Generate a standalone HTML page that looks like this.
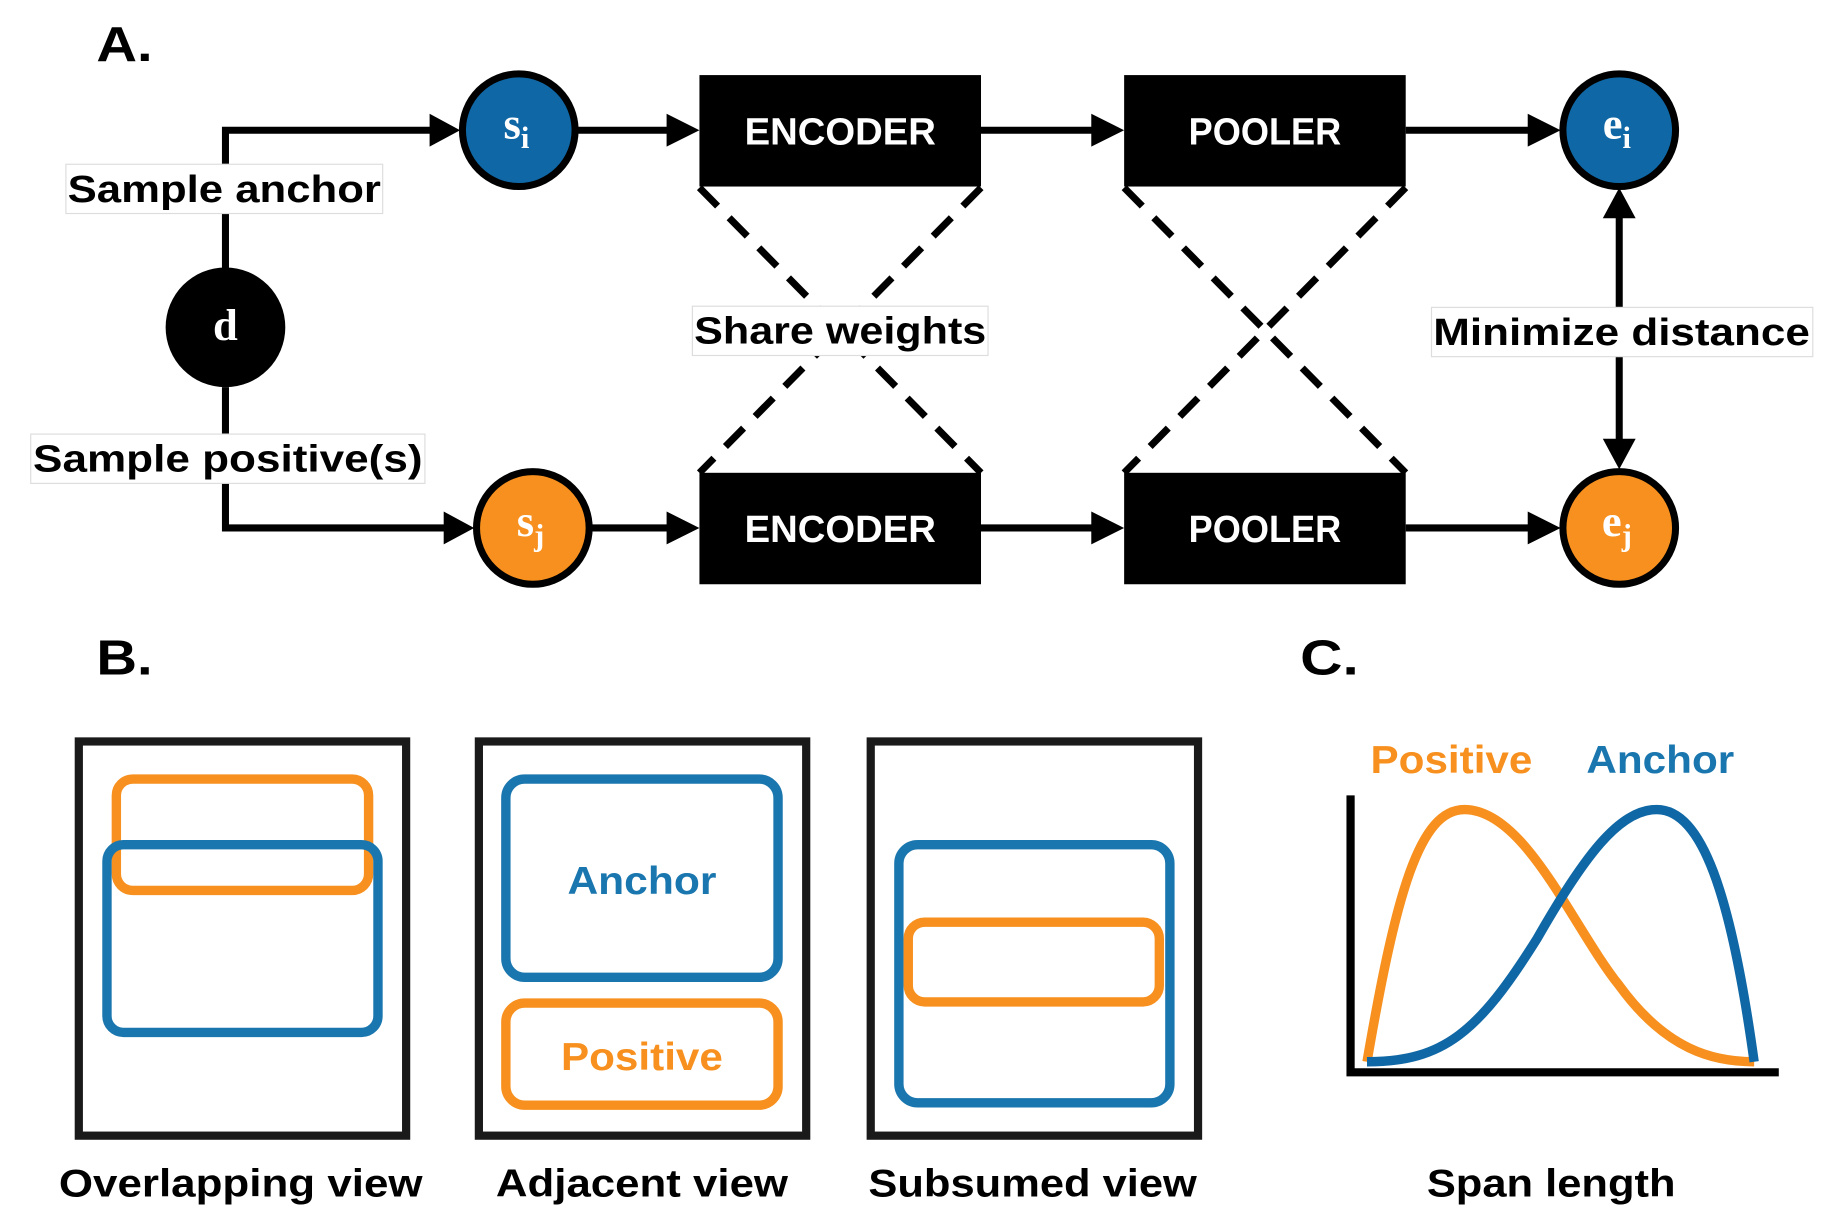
<!DOCTYPE html>
<html><head><meta charset="utf-8"><style>
html,body{margin:0;padding:0;background:#fff;}
svg{display:block;}
text{font-family:"Liberation Sans",sans-serif;font-weight:bold;}
text.serif{font-family:"Liberation Serif",serif;}
</style></head><body>
<svg width="1840" height="1226" viewBox="0 0 1568 1045" xmlns="http://www.w3.org/2000/svg">
<rect width="1568" height="1045" fill="#fff"/>
<text x="82" y="52" font-size="42" textLength="48" lengthAdjust="spacingAndGlyphs">A.</text>
<text x="82" y="575" font-size="42" textLength="48" lengthAdjust="spacingAndGlyphs">B.</text>
<text x="1108" y="575" font-size="42" textLength="50" lengthAdjust="spacingAndGlyphs">C.</text>

<g stroke="#000" stroke-width="6" fill="none">
<polyline points="192,230 192,111 370,111"/>
<polyline points="192,330 192,450 382,450"/>
<line x1="492" y1="111" x2="572" y2="111"/>
<line x1="836" y1="111" x2="934" y2="111"/>
<line x1="1198" y1="111" x2="1306" y2="111"/>
<line x1="504" y1="450" x2="572" y2="450"/>
<line x1="836" y1="450" x2="934" y2="450"/>
<line x1="1198" y1="450" x2="1306" y2="450"/>
<line x1="1380" y1="182" x2="1380" y2="378"/>
</g>
<g fill="#000">
<polygon points="366,97 392,111 366,125"/>
<polygon points="378,436 404,450 378,464"/>
<polygon points="568,97 596,111 568,125"/>
<polygon points="568,436 596,450 568,464"/>
<polygon points="930,97 958,111 930,125"/>
<polygon points="930,436 958,450 930,464"/>
<polygon points="1302,97 1330,111 1302,125"/>
<polygon points="1302,436 1330,450 1302,464"/>
<polygon points="1366,186 1380,160 1394,186"/>
<polygon points="1366,374 1380,400 1394,374"/>
</g>
<g stroke="#000" stroke-width="6" stroke-dasharray="22,14">
<line x1="596" y1="160" x2="836" y2="403"/>
<line x1="836" y1="160" x2="596" y2="403"/>
<line x1="958" y1="160" x2="1198" y2="403"/>
<line x1="1198" y1="160" x2="958" y2="403"/>
</g>
<g fill="#000">
<rect x="596" y="64" width="240" height="95"/>
<rect x="958" y="64" width="240" height="95"/>
<rect x="596" y="403" width="240" height="95"/>
<rect x="958" y="403" width="240" height="95"/>
</g>
<g fill="#fff" font-size="32" text-anchor="middle">
<text x="716" y="123" textLength="163" lengthAdjust="spacingAndGlyphs">ENCODER</text>
<text x="1078" y="123" textLength="130" lengthAdjust="spacingAndGlyphs">POOLER</text>
<text x="716" y="462" textLength="163" lengthAdjust="spacingAndGlyphs">ENCODER</text>
<text x="1078" y="462" textLength="130" lengthAdjust="spacingAndGlyphs">POOLER</text>
</g>
<circle cx="192" cy="279" r="51" fill="#000"/>
<text class="serif" x="192" y="290" fill="#fff" font-size="38" text-anchor="middle">d</text>
<g stroke="#000" stroke-width="6">
<circle cx="442" cy="111" r="48" fill="#0f67a5"/>
<circle cx="454" cy="450" r="48" fill="#f7901e"/>
<circle cx="1380" cy="111" r="48" fill="#0f67a5"/>
<circle cx="1380" cy="450" r="48" fill="#f7901e"/>
</g>
<g fill="#fff" font-size="38" text-anchor="middle">
<text class="serif" x="440" y="118">s<tspan font-size="26" dy="8">i</tspan></text>
<text class="serif" x="452" y="457">s<tspan font-size="26" dy="8">j</tspan></text>
<text class="serif" x="1378" y="118">e<tspan font-size="26" dy="8">i</tspan></text>
<text class="serif" x="1378" y="457">e<tspan font-size="26" dy="8">j</tspan></text>
</g>
<g fill="#fff" stroke="#ddd" stroke-width="1">
<rect x="56" y="140" width="270" height="42"/>
<rect x="26" y="370" width="336" height="42"/>
<rect x="590" y="261" width="252" height="42"/>
<rect x="1220" y="262" width="325" height="42"/>
</g>
<g font-size="32" text-anchor="middle">
<text x="191" y="172" textLength="267" lengthAdjust="spacingAndGlyphs">Sample anchor</text>
<text x="194" y="402" textLength="332" lengthAdjust="spacingAndGlyphs">Sample positive(s)</text>
<text x="716" y="293" textLength="249" lengthAdjust="spacingAndGlyphs">Share weights</text>
<text x="1382" y="294" textLength="321" lengthAdjust="spacingAndGlyphs">Minimize distance</text>
</g>
<g fill="none" stroke="#1a1a1a" stroke-width="7">
<rect x="67" y="632" width="279" height="336"/>
<rect x="408" y="632" width="279" height="336"/>
<rect x="742" y="632" width="279" height="336"/>
</g>
<g fill="none" stroke-width="8">
<rect x="99" y="664" width="215" height="95" rx="14" stroke="#f7901e"/>
<rect x="91" y="720" width="231" height="160" rx="14" stroke="#1a76ae"/>
<rect x="431" y="664" width="232" height="169" rx="16" stroke="#1a76ae"/>
<rect x="431" y="855" width="232" height="87" rx="16" stroke="#f7901e"/>
<rect x="766" y="720" width="231" height="220" rx="16" stroke="#1a76ae"/>
<rect x="774" y="786" width="214" height="68" rx="14" stroke="#f7901e"/>
</g>
<text x="547" y="762" font-size="33" fill="#1a76ae" text-anchor="middle" textLength="127" lengthAdjust="spacingAndGlyphs">Anchor</text>
<text x="547" y="912" font-size="33" fill="#f7901e" text-anchor="middle" textLength="138" lengthAdjust="spacingAndGlyphs">Positive</text>
<g font-size="33" text-anchor="middle">
<text x="205" y="1020" textLength="310" lengthAdjust="spacingAndGlyphs">Overlapping view</text>
<text x="547" y="1020" textLength="249" lengthAdjust="spacingAndGlyphs">Adjacent view</text>
<text x="880" y="1020" textLength="280" lengthAdjust="spacingAndGlyphs">Subsumed view</text>
<text x="1322" y="1020" textLength="212" lengthAdjust="spacingAndGlyphs">Span length</text>
</g>
<text x="1237" y="659" font-size="33" fill="#f7901e" text-anchor="middle" textLength="138" lengthAdjust="spacingAndGlyphs">Positive</text>
<text x="1415" y="659" font-size="33" fill="#1a76ae" text-anchor="middle" textLength="126" lengthAdjust="spacingAndGlyphs">Anchor</text>
<polyline points="1151,678 1151,914 1516,914" fill="none" stroke="#000" stroke-width="7"/>
<path d="M1165,905 C1190,760 1210,690 1248,690 C1300,690 1340,790 1380,840 C1420,895 1460,905 1495,905" fill="none" stroke="#f7901e" stroke-width="8"/>
<path d="M1165,905 C1230,905 1260,880 1310,800 C1350,730 1380,690 1412,690 C1450,690 1475,760 1495,905" fill="none" stroke="#0f67a5" stroke-width="8"/>
</svg>
</body></html>
